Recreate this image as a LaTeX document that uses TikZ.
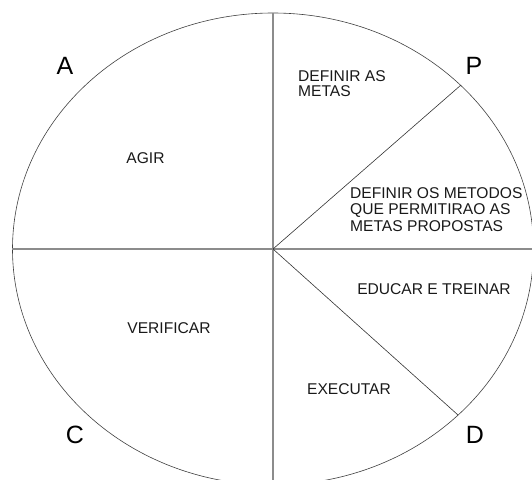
\documentclass[tikz,border=0pt]{standalone}
\usepackage{fontspec}
\setmainfont{Liberation Sans}
\begin{document}
\begin{tikzpicture}[x=1pt,y=-1pt,
  axisline/.style={draw=black!45,line width=1.1pt},
  diagline/.style={draw=black!80,line width=0.6pt},
  rim/.style={draw=black!75,line width=0.6pt},
  lbl/.style={text=black!90,font=\fontsize{15.6}{15.6}\selectfont,inner sep=0pt},
  blk/.style={text=black!90,font=\fontsize{15.6}{15}\selectfont,inner sep=0pt,align=left,anchor=north west},
  blkb/.style={text=black!90,font=\fontsize{15.6}{16.5}\selectfont,inner sep=0pt,align=left,anchor=north west},
  big/.style={text=black,font=\fontsize{25}{25}\selectfont,inner sep=0pt}]
\useasboundingbox (0,0) rectangle (532,479);
\clip (0,0) rectangle (532,479);
\coordinate (O) at (273,249);
\coordinate (top) at (273,13);
\coordinate (bot) at (273,485);
\coordinate (lft) at (12,249);
\coordinate (rgt) at (533,249);
\coordinate (pp) at (461,85);
\coordinate (dd) at (458,415);
\draw[rim] (O) ellipse [x radius=260.5, y radius=236];
\draw[axisline] (top) -- (bot);
\draw[axisline] (lft) -- (rgt);
\draw[diagline] (O) -- (pp);
\draw[diagline] (O) -- (dd);
\node[big] (A) at (65,66) {A};
\node[big] (P) at (474,66) {P};
\node[big] (C) at (75,435) {C};
\node[big] (D) at (475,435) {D};
\node[lbl] (agir) at (145.5,158) {AGIR};
\node[lbl] (verif) at (169,328) {VERIFICAR};
\node[lbl] (exec) at (349,389) {EXECUTAR};
\node[lbl] (educ) at (434,289.5) {EDUCAR E TREINAR};
\node[blk] (metas) at (298,70) {DEFINIR AS\\METAS};
\node[blkb] (metodos) at (350,187) {DEFINIR OS METODOS\\QUE PERMITIRAO AS\\METAS PROPOSTAS};
\end{tikzpicture}
\end{document}
